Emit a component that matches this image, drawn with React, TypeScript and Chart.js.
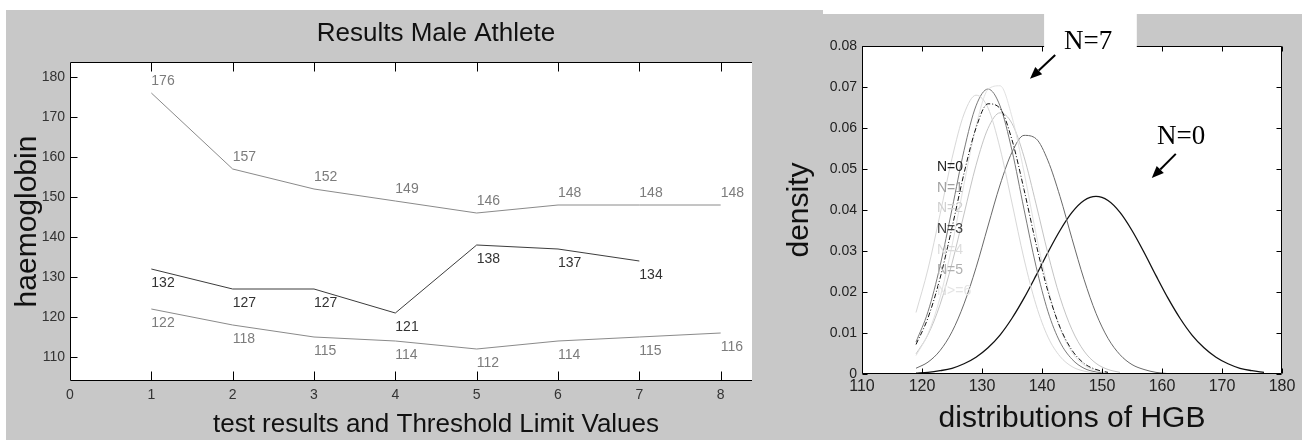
import React, { useEffect, useRef } from 'react';
import { Chart, registerables } from 'chart.js';

Chart.register(...registerables);

// ---------- Left chart data ----------
const TEST_INDEX = [1, 2, 3, 4, 5, 6, 7, 8];
const UPPER_TLV = [176, 157, 152, 149, 146, 148, 148, 148];
const ATHLETE_RESULTS = [132, 127, 127, 121, 138, 137, 134];
const LOWER_TLV = [122, 118, 115, 114, 112, 114, 115, 116];
const LEFT_X_TICKS = [0, 1, 2, 3, 4, 5, 6, 7, 8, 9];
const LEFT_Y_TICKS = [110, 120, 130, 140, 150, 160, 170, 180];

// ---------- Right chart data ----------
const HGB_X = [119, 121, 123, 125, 127, 129, 131, 133, 135, 137, 139, 141, 143, 145, 147, 149, 151, 153, 155, 157, 159, 161, 163, 165, 167, 169, 171, 173, 175, 177];
const DENS_N0 = [0.0002, 0.0004, 0.0008, 0.0014, 0.0025, 0.0041, 0.0064, 0.0095, 0.0136, 0.0185, 0.024, 0.0297, 0.035, 0.0394, 0.0423, 0.0433, 0.0423, 0.0394, 0.035, 0.0297, 0.024, 0.0185, 0.0136, 0.0095, 0.0064, 0.0041, 0.0025, 0.0014, 0.0008, 0.0004];
const DENS_N1 = [0.0078, 0.0152, 0.0263, 0.0402, 0.0545, 0.0654, 0.0695, 0.0654, 0.0545, 0.0402, 0.0263, 0.0152, 0.0078, 0.0036, 0.0014, 0.0005, 0.0002];
const DENS_N2 = [0.015, 0.0256, 0.0389, 0.0526, 0.0634, 0.068, 0.0649, 0.0551, 0.0417, 0.0281, 0.0169, 0.009, 0.0043, 0.0018, 0.0007, 0.0002];
const DENS_N3 = [0.0014, 0.0029, 0.0057, 0.0103, 0.0171, 0.0259, 0.0361, 0.0461, 0.0541, 0.0582, 0.0574, 0.052, 0.0433, 0.033, 0.0231, 0.0148, 0.0087, 0.0047, 0.0023, 0.0011, 0.0004, 0.0001];
const DENS_N4 = [0.0045, 0.0098, 0.0186, 0.0313, 0.0463, 0.0604, 0.0694, 0.0703, 0.0627, 0.0493, 0.0342, 0.0209, 0.0112, 0.0053, 0.0022, 0.0008, 0.0003];
const DENS_N5 = [0.0049, 0.0096, 0.0169, 0.027, 0.039, 0.0509, 0.0599, 0.0637, 0.0611, 0.053, 0.0415, 0.0293, 0.0187, 0.0108, 0.0056, 0.0026, 0.0011, 0.0004];
const DENS_N6 = [0.0072, 0.0137, 0.0233, 0.0357, 0.0489, 0.06, 0.0659, 0.0648, 0.0571, 0.045, 0.0318, 0.0201, 0.0114, 0.0058, 0.0026, 0.0011, 0.0004];
const RIGHT_X_TICKS = [110, 120, 130, 140, 150, 160, 170, 180];
const RIGHT_Y_TICKS = [0, 0.01, 0.02, 0.03, 0.04, 0.05, 0.06, 0.07, 0.08];
const LEGEND_LABELS = ['N=0', 'N=1', 'N=2', 'N=3', 'N=4', 'N=5', 'N>=6'];

const SANS = "'Liberation Sans', Arial, sans-serif";
const SERIF = "'Liberation Serif', 'Times New Roman', serif";
const GRAY_BG = '#c8c8c8';

function inwardAxes(id: string, o: { xLen: number; yLen: number; right: boolean; skipX: number[] }) {
  return {
    id,
    beforeDraw(chart: any) {
      const { ctx, chartArea: a } = chart;
      ctx.save();
      ctx.fillStyle = '#ffffff';
      ctx.fillRect(a.left, a.top, a.right - a.left, a.bottom - a.top);
      ctx.restore();
    },
    afterDatasetsDraw(chart: any) {
      const { ctx, chartArea: a, scales } = chart;
      const xs = scales.x;
      const ys = scales.y;
      const L = Math.round(a.left) + 0.5;
      const R = Math.round(a.right) - 0.5;
      const T = Math.round(a.top) + 0.5;
      const B = Math.round(a.bottom) - 0.5;
      ctx.save();
      ctx.strokeStyle = '#000';
      ctx.lineWidth = 1;
      ctx.setLineDash([]);
      ctx.beginPath();
      ctx.moveTo(L, T); ctx.lineTo(R, T);
      ctx.moveTo(L, T); ctx.lineTo(L, B);
      ctx.moveTo(L, B); ctx.lineTo(R, B);
      if (o.right) { ctx.moveTo(R, T); ctx.lineTo(R, B); }
      for (const t of xs.ticks) {
        if (o.skipX.includes(t.value)) continue;
        const px = Math.round(xs.getPixelForValue(t.value)) + 0.5;
        ctx.moveTo(px, B); ctx.lineTo(px, B - o.xLen);
        ctx.moveTo(px, T); ctx.lineTo(px, T + o.xLen);
      }
      for (const t of ys.ticks) {
        const py = Math.round(ys.getPixelForValue(t.value)) + 0.5;
        ctx.moveTo(L, py); ctx.lineTo(L + o.yLen, py);
        if (o.right) { ctx.moveTo(R, py); ctx.lineTo(R - o.yLen, py); }
      }
      ctx.stroke();
      ctx.restore();
    },
  };
}

const LABEL_STYLE = [
  { color: '#7c7c7c', above: true },
  { color: '#333333', above: false },
  { color: '#7c7c7c', above: false },
];

const valueLabels = {
  id: 'valueLabels',
  afterDatasetsDraw(chart: any) {
    const { ctx } = chart;
    ctx.save();
    ctx.font = `14px ${SANS}`;
    ctx.textAlign = 'left';
    chart.data.datasets.forEach((ds: any, i: number) => {
      const st = LABEL_STYLE[i];
      const meta = chart.getDatasetMeta(i);
      ctx.fillStyle = st.color;
      ctx.textBaseline = st.above ? 'bottom' : 'top';
      meta.data.forEach((pt: any, j: number) => {
        const v = ds.data[j].y;
        ctx.fillText(String(v), pt.x, st.above ? pt.y - 5 : pt.y + 7);
      });
    });
    ctx.restore();
  },
};

function arrow(ctx: CanvasRenderingContext2D, x1: number, y1: number, x2: number, y2: number) {
  const ang = Math.atan2(y2 - y1, x2 - x1);
  const hl = 12;
  const hw = 5;
  const bx = x2 - hl * Math.cos(ang);
  const by = y2 - hl * Math.sin(ang);
  ctx.beginPath();
  ctx.moveTo(x1, y1);
  ctx.lineTo(bx, by);
  ctx.lineWidth = 2;
  ctx.stroke();
  ctx.beginPath();
  ctx.moveTo(x2, y2);
  ctx.lineTo(bx + hw * Math.sin(ang), by - hw * Math.cos(ang));
  ctx.lineTo(bx - hw * Math.sin(ang), by + hw * Math.cos(ang));
  ctx.closePath();
  ctx.fill();
}

const LEGEND_COLORS = ['#222222', '#a0a0a0', '#d0d0d0', '#444444', '#dcdcdc', '#b0b0b0', '#e4e4e4'];

const annotations = {
  id: 'annotations',
  afterDraw(chart: any) {
    const { ctx } = chart;
    const xs = chart.scales.x;
    const ys = chart.scales.y;
    const X = (v: number) => xs.getPixelForValue(v);
    const Y = (v: number) => ys.getPixelForValue(v);
    ctx.save();
    ctx.font = `14px ${SANS}`;
    ctx.textAlign = 'left';
    ctx.textBaseline = 'middle';
    LEGEND_LABELS.forEach((t, i) => {
      ctx.fillStyle = LEGEND_COLORS[i];
      ctx.fillText(t, X(122.5), Y(0.0505 - i * 0.00505));
    });
    ctx.fillStyle = '#ffffff';
    const bx1 = X(140.35);
    const bx2 = X(155.8);
    const by2 = Y(0.0778);
    ctx.fillRect(bx1, 0, bx2 - bx1, by2);
    ctx.fillStyle = '#000';
    ctx.strokeStyle = '#000';
    ctx.font = `27px ${SERIF}`;
    ctx.textAlign = 'center';
    ctx.textBaseline = 'middle';
    ctx.fillText('N=7', X(147.7), Y(0.081));
    arrow(ctx, X(142.2), Y(0.0778), X(138.0), Y(0.072));
    ctx.fillText('N=0', X(163.2), Y(0.0578));
    arrow(ctx, X(162.3), Y(0.0537), X(158.3), Y(0.0478));
    ctx.restore();
  },
};

function toPoints(xs: number[], ys: number[]) {
  return ys.map((y, i) => ({ x: xs[i], y }));
}

export default function App() {
  const leftRef = useRef<HTMLCanvasElement>(null);
  const rightRef = useRef<HTMLCanvasElement>(null);

  useEffect(() => {
    const left = new Chart(leftRef.current as HTMLCanvasElement, {
      type: 'line',
      data: {
        datasets: [
          { label: 'upper', data: toPoints(TEST_INDEX, UPPER_TLV), borderColor: '#8a8a8a', borderWidth: 1, pointRadius: 0, tension: 0 },
          { label: 'athlete', data: toPoints(TEST_INDEX, ATHLETE_RESULTS), borderColor: '#3c3c3c', borderWidth: 1, pointRadius: 0, tension: 0 },
          { label: 'lower', data: toPoints(TEST_INDEX, LOWER_TLV), borderColor: '#8a8a8a', borderWidth: 1, pointRadius: 0, tension: 0 },
        ],
      },
      options: {
        responsive: false,
        animation: false,
        layout: { padding: { left: 0, top: 0, right: 21, bottom: 0 } },
        plugins: {
          legend: { display: false },
          tooltip: { enabled: false },
          title: {
            display: true,
            text: 'Results Male Athlete',
            fullSize: false,
            color: '#111',
            font: { family: SANS, size: 26, lineHeight: 1, weight: 'normal' },
            padding: { top: 21, bottom: 15 },
          },
        },
        scales: {
          x: {
            type: 'linear',
            min: 0,
            max: 9,
            afterBuildTicks: (s: any) => { s.ticks = LEFT_X_TICKS.map((v) => ({ value: v })); },
            afterFit: (s: any) => { s.height = 59; },
            grid: { display: false, drawTicks: false },
            border: { display: false },
            ticks: {
              font: { family: SANS, size: 14 },
              color: '#333',
              padding: 6,
              maxRotation: 0,
              autoSkip: false,
              callback: (v: any) => (v === 9 ? '' : String(v)),
            },
            title: {
              display: true,
              text: 'test results and Threshold Limit Values',
              color: '#111',
              font: { family: SANS, size: 26, lineHeight: 1 },
              padding: { top: 0, bottom: 2 },
            },
          },
          y: {
            type: 'linear',
            min: 104,
            max: 183.75,
            afterBuildTicks: (s: any) => { s.ticks = LEFT_Y_TICKS.map((v) => ({ value: v })); },
            afterFit: (s: any) => { s.width = 70; },
            grid: { display: false, drawTicks: false },
            border: { display: false },
            ticks: { font: { family: SANS, size: 14 }, color: '#333', padding: 5 },
            title: {
              display: true,
              text: 'haemoglobin',
              color: '#111',
              font: { family: SANS, size: 30, lineHeight: 1 },
              padding: { top: 13, bottom: 0 },
            },
          },
        },
      },
      plugins: [inwardAxes('leftAxes', { xLen: 9, yLen: 7, right: true, skipX: [0, 9] }), valueLabels],
    } as any);

    const mk = (data: number[], color: string, width = 1, dash: number[] = []) => ({
      data: toPoints(HGB_X, data),
      borderColor: color,
      borderWidth: width,
      borderDash: dash,
      pointRadius: 0,
      cubicInterpolationMode: 'monotone',
      fill: false,
    });

    const right = new Chart(rightRef.current as HTMLCanvasElement, {
      type: 'line',
      data: {
        datasets: [
          mk(DENS_N6, '#111111', 1, [5, 2, 1, 2]),
          mk(DENS_N2, '#d8d8d8'),
          mk(DENS_N4, '#e2e2e2'),
          mk(DENS_N5, '#c4c4c4'),
          mk(DENS_N1, '#7a7a7a'),
          mk(DENS_N3, '#6a6a6a'),
          mk(DENS_N0, '#111111', 1.3),
        ],
      },
      options: {
        responsive: false,
        animation: false,
        layout: { padding: { left: 0, top: 46, right: 20, bottom: 0 } },
        plugins: { legend: { display: false }, tooltip: { enabled: false }, title: { display: false } },
        scales: {
          x: {
            type: 'linear',
            min: 110,
            max: 180,
            afterBuildTicks: (s: any) => { s.ticks = RIGHT_X_TICKS.map((v) => ({ value: v })); },
            afterFit: (s: any) => { s.height = 66; },
            grid: { display: false, drawTicks: false },
            border: { display: false },
            ticks: { font: { family: SANS, size: 16 }, color: '#222', padding: 3, maxRotation: 0, autoSkip: false },
            title: {
              display: true,
              text: 'distributions of HGB',
              color: '#111',
              font: { family: SANS, size: 30, lineHeight: 1 },
              padding: { top: 0, bottom: 6 },
            },
          },
          y: {
            type: 'linear',
            min: 0,
            max: 0.08,
            afterBuildTicks: (s: any) => { s.ticks = RIGHT_Y_TICKS.map((v) => ({ value: v })); },
            afterFit: (s: any) => { s.width = 110; },
            grid: { display: false, drawTicks: false },
            border: { display: false },
            ticks: {
              font: { family: SANS, size: 14 },
              color: '#222',
              padding: 5,
              callback: (v: any) => (v === 0 ? '0' : Number(v).toFixed(2)),
            },
            title: {
              display: true,
              text: 'density',
              color: '#111',
              font: { family: SANS, size: 30, lineHeight: 1 },
              padding: { top: 33, bottom: 0 },
            },
          },
        },
      },
      plugins: [inwardAxes('rightAxes', { xLen: 5, yLen: 5, right: true, skipX: [] }), annotations],
    } as any);

    return () => {
      left.destroy();
      right.destroy();
    };
  }, []);

  const abs = (l: number, t: number, w: number, h: number, extra: any = {}) => ({
    position: 'absolute' as const, left: l, top: t, width: w, height: h, ...extra,
  });

  return (
    <div style={{ position: 'fixed', left: 0, top: 0, width: 1302, height: 440, background: '#fff', overflow: 'hidden' }}>
      <div style={abs(6, 10, 746, 430, { background: GRAY_BG })} />
      <canvas ref={leftRef} width={823} height={440} style={abs(0, 0, 823, 440, { display: 'block' })} />
      <div style={abs(752, 10, 71, 430, { background: GRAY_BG })} />
      <div style={abs(823, 14, 479, 426, { background: GRAY_BG })} />
      <canvas ref={rightRef} width={550} height={440} style={abs(752, 0, 550, 440, { display: 'block' })} />
    </div>
  );
}
